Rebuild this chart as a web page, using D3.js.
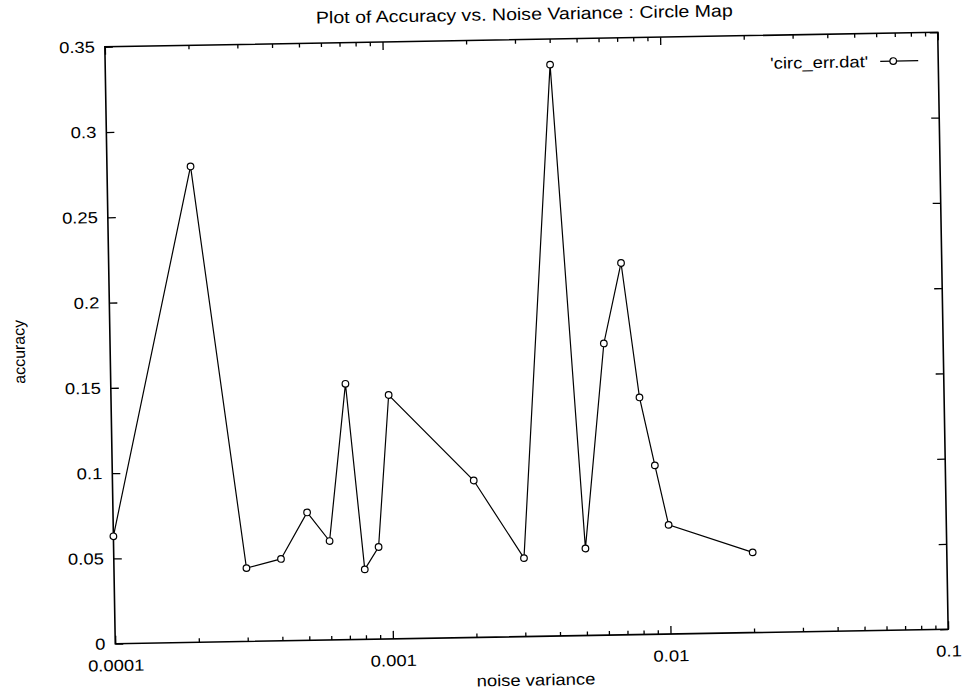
<!DOCTYPE html>
<html>
<head>
<meta charset="utf-8">
<script src="https://cdn.jsdelivr.net/npm/d3@7"></script>
<style>
  body { margin: 0; background: #fff; }
  text { font-family: "Liberation Sans", Arial, Helvetica, sans-serif; fill: #000; }
</style>
</head>
<body>
<div id="chart"></div>
<script>
// data
const noiseVariance = [0.0001, 0.0002, 0.0003, 0.0004, 0.0005, 0.0006, 0.0007, 0.0008, 0.0009, 0.001,
                       0.002, 0.003, 0.004, 0.005, 0.006, 0.007, 0.008, 0.009, 0.01, 0.02];
const accuracy = [0.063, 0.279, 0.043, 0.048, 0.075, 0.058, 0.150, 0.041, 0.054, 0.143,
                  0.092, 0.046, 0.335, 0.051, 0.171, 0.218, 0.139, 0.099, 0.064, 0.047];

const yTickValues = [0, 0.05, 0.1, 0.15, 0.2, 0.25, 0.3, 0.35];
const yTickLabels = ["0", "0.05", "0.1", "0.15", "0.2", "0.25", "0.3", "0.35"];
const xTickValues = [0.0001, 0.001, 0.01, 0.1];
const xTickLabels = ["0.0001", "0.001", "0.01", "0.1"];

const chartTitle = "Plot of Accuracy vs. Noise Variance : Circle Map";
const xTitle = "noise variance";
const yTitle = "accuracy";
const seriesName = "'circ_err.dat'";

const width = 965, height = 690;
const margin = { top: 39.5, right: 22, bottom: 53.5, left: 110 };
const innerW = width - margin.left - margin.right;
const innerH = height - margin.top - margin.bottom;

// scanned text is a bit wider than the font
const textStretch = 1.15;

const svg = d3.select("#chart").append("svg")
    .attr("width", width)
    .attr("height", height);

// the scan is slightly tilted
const page = svg.append("g")
    .attr("transform", "rotate(-1, 526.5, 338)");

const g = page.append("g")
    .attr("transform", `translate(${margin.left},${margin.top})`);

const x = d3.scaleLog().domain([0.0001, 0.1]).range([0, innerW]);
const y = d3.scaleLinear().domain([0, 0.35]).range([innerH, 0]);

const minorX = x.ticks().filter(d => !xTickValues.some(v => Math.abs(v - d) < d * 1e-6));

function styleAxis(sel) {
    sel.select(".domain").remove();
    sel.selectAll("line").attr("stroke", "#000").attr("stroke-width", 1.3);
    sel.selectAll("text")
        .attr("class", "stretch")
        .attr("font-size", 16)
        .attr("font-family", "'Liberation Sans', Arial, sans-serif")
        .attr("fill", "#000");
}

// bottom axis, major + minor
g.append("g")
    .attr("transform", `translate(0,${innerH})`)
    .call(d3.axisBottom(x).tickValues(xTickValues)
        .tickFormat((d, i) => xTickLabels[i])
        .tickSizeInner(-8).tickSizeOuter(0).tickPadding(16))
    .call(styleAxis);

g.append("g")
    .attr("transform", `translate(0,${innerH})`)
    .call(d3.axisBottom(x).tickValues(minorX).tickFormat("").tickSizeInner(-4).tickSizeOuter(0))
    .call(styleAxis);

// top axis (mirrored ticks)
g.append("g")
    .call(d3.axisTop(x).tickValues(xTickValues).tickFormat("").tickSizeInner(-8).tickSizeOuter(0))
    .call(styleAxis);
g.append("g")
    .call(d3.axisTop(x).tickValues(minorX).tickFormat("").tickSizeInner(-4).tickSizeOuter(0))
    .call(styleAxis);

// left axis
g.append("g")
    .call(d3.axisLeft(y).tickValues(yTickValues)
        .tickFormat((d, i) => yTickLabels[i])
        .tickSizeInner(-8).tickSizeOuter(0).tickPadding(10))
    .call(styleAxis);

// right axis (mirrored ticks)
g.append("g")
    .attr("transform", `translate(${innerW},0)`)
    .call(d3.axisRight(y).tickValues(yTickValues).tickFormat("").tickSizeInner(-8).tickSizeOuter(0))
    .call(styleAxis);

// frame
g.append("rect")
    .attr("width", innerW)
    .attr("height", innerH)
    .attr("fill", "none")
    .attr("stroke", "#000")
    .attr("stroke-width", 1.6);

// series
const data = noiseVariance.map((v, i) => ({ x: v, y: accuracy[i] }));

const line = d3.line()
    .x(d => x(d.x))
    .y(d => y(d.y));

g.append("path")
    .datum(data)
    .attr("fill", "none")
    .attr("stroke", "#000")
    .attr("stroke-width", 1.2)
    .attr("d", line);

g.selectAll(".pt")
    .data(data)
    .enter().append("circle")
    .attr("class", "pt")
    .attr("cx", d => x(d.x))
    .attr("cy", d => y(d.y))
    .attr("r", 3.3)
    .attr("fill", "#fff")
    .attr("stroke", "#000")
    .attr("stroke-width", 1.2);

// legend
const legend = g.append("g")
    .attr("transform", `translate(${innerW - 58},${28})`);

legend.append("text")
    .attr("class", "stretch")
    .attr("x", -12)
    .attr("y", 0)
    .attr("dy", "0.35em")
    .attr("text-anchor", "end")
    .attr("font-size", 16)
    .text(seriesName);

legend.append("line")
    .attr("x1", 0).attr("x2", 38)
    .attr("y1", 0).attr("y2", 0)
    .attr("stroke", "#000")
    .attr("stroke-width", 1.2);

legend.append("circle")
    .attr("cx", 13).attr("cy", 0).attr("r", 3.3)
    .attr("fill", "#fff").attr("stroke", "#000").attr("stroke-width", 1.2);

// titles
page.append("text")
    .attr("class", "stretch")
    .attr("x", 530)
    .attr("y", 14)
    .attr("dy", "0.35em")
    .attr("text-anchor", "middle")
    .attr("font-size", 17)
    .text(chartTitle);

page.append("text")
    .attr("class", "stretch")
    .attr("x", 530)
    .attr("y", 680)
    .attr("dy", "0.35em")
    .attr("text-anchor", "middle")
    .attr("font-size", 16)
    .text(xTitle);

page.append("text")
    .attr("transform", "translate(19,343) rotate(-90)")
    .attr("dy", "0.35em")
    .attr("text-anchor", "middle")
    .attr("font-size", 16)
    .text(yTitle);

// widen horizontal labels to match the scan
svg.selectAll("text.stretch").each(function () {
    let len = this.getComputedTextLength();
    d3.select(this)
        .attr("textLength", len * textStretch)
        .attr("lengthAdjust", "spacingAndGlyphs");
});
</script>
</body>
</html>
